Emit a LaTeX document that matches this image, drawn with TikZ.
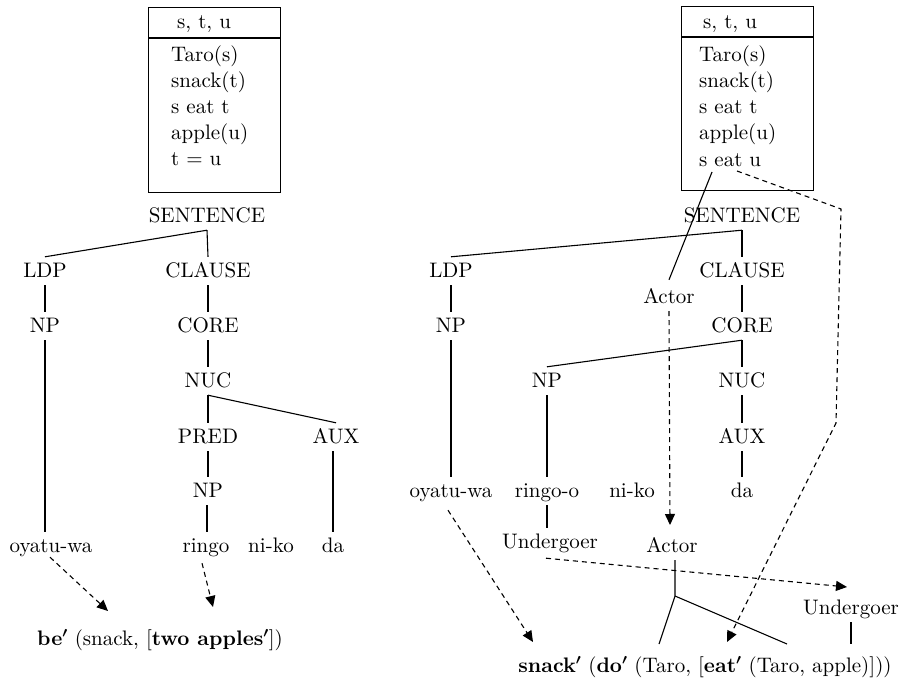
\documentclass[tikz,border=0pt]{standalone}
\usepackage{fontspec}
% Latin Modern at its 10pt design size, scaled up
\setmainfont{lmroman10-regular}[Extension=.otf, BoldFont=lmroman10-bold]
\usetikzlibrary{arrows.meta,calc}
% bold prime used in the semantic representations
\newcommand\bprime{{\boldmath$'$}}
\begin{document}
\begin{tikzpicture}[x=1pt,y=-1pt,
  every node/.style={font=\fontsize{21}{25}\selectfont},
  cat/.style={anchor=base, text height=16pt, text depth=4pt, inner xsep=2pt, inner ysep=4pt},
  drsline/.style={anchor=base west, inner sep=0pt},
  drsbox/.style={draw, line width=1.2pt, anchor=north west, inner sep=0pt},
  formula/.style={anchor=base, inner sep=0pt},
  branch/.style={line width=1.1pt},
  linkline/.style={line width=1.1pt, dash pattern=on 5pt off 4pt},
  link/.style={linkline, -{Triangle[length=11pt,width=10pt]}}
]
\useasboundingbox (0,0) rectangle (908,680);

% ---------------- left: DRS box ----------------
\node[drsbox, minimum width=132pt, minimum height=185pt] (boxL) at (148,7) {};
\draw[line width=1.2pt] ([yshift=-31pt]boxL.north west) -- ([yshift=-31pt]boxL.north east);
\node[drsline] (hdL) at (177,28) {s, t, u};
\node[drsline] (l1L) at (171,61) {Taro(s)};
\node[drsline] (l2L) at (171,87) {snack(t)};
\node[drsline] (l3L) at (171,113) {s eat t};
\node[drsline] (l4L) at (171,139) {apple(u)};
\node[drsline] (l5L) at (171,165) {t = u};

% ---------------- left: tree ----------------
\node[cat] (sentL)   at (207,222) {SENTENCE};
\node[cat] (ldpL)    at (45,277)  {LDP};
\node[cat] (clauseL) at (208,277) {CLAUSE};
\node[cat] (npL)     at (45,332)  {NP};
\node[cat] (coreL)   at (208,332) {CORE};
\node[cat] (nucL)    at (208,387) {NUC};
\node[cat] (predL)   at (208,443) {PRED};
\node[cat] (auxL)    at (336,443) {AUX};
\node[cat] (np2L)    at (208,497) {NP};
\node[cat] (oyL)     at (51,552)  {oyatu-wa};
\node[cat] (ringoL)  at (206,552) {ringo};
\node[cat] (nikoL)   at (271,552) {ni-ko};
\node[cat] (daL)     at (333,552) {da};
\node[formula] (semL) at (160,645) {\textbf{be}\bprime{} (snack, [\textbf{two apples}\bprime])};

\draw[branch] (sentL.south) -- (clauseL.north);
\draw[branch] (sentL.south) -- (ldpL.north);
\draw[branch] (ldpL.south) -- (npL.north);
\draw[branch] (clauseL.south) -- (coreL.north);
\draw[branch] (coreL.south) -- (nucL.north);
\draw[branch] (nucL.south) -- (predL.north);
\draw[branch] (nucL.south) -- (auxL.north);
\draw[branch] (predL.south) -- (np2L.north);
\draw[branch] ([xshift=-1pt]np2L.south) -- ([xshift=-1pt]np2L.south |- ringoL.north);
\draw[branch] (npL.south) -- (oyL.north -| npL);
\draw[branch] (daL |- auxL.south) -- (daL.north);

\coordinate (tipOyL) at (108,611);
\coordinate (tipRiL) at (213,607);
\draw[link] ([shift={(-1,-3)}]oyL.south) -- (tipOyL);
\draw[link] ([shift={(-4,3)}]ringoL.south) -- (tipRiL);

% ---------------- right: DRS box ----------------
\node[drsbox, minimum width=132pt, minimum height=184pt] (boxR) at (681,6) {};
\draw[line width=1.2pt] ([yshift=-31pt]boxR.north west) -- ([yshift=-31pt]boxR.north east);
\node[drsline] (hdR) at (703,28) {s, t, u};
\node[drsline] (l1R) at (699,61) {Taro(s)};
\node[drsline] (l2R) at (699,87) {snack(t)};
\node[drsline] (l3R) at (699,113) {s eat t};
\node[drsline] (l4R) at (699,139) {apple(u)};
\node[drsline] (seatuR) at (699,166) {s eat u};

% ---------------- right: tree ----------------
\node[cat] (sentR)   at (742,222) {SENTENCE};
\node[cat] (ldpR)    at (451,277) {LDP};
\node[cat] (clauseR) at (742,277) {CLAUSE};
\node[cat] (actU)    at (669,303) {Actor};
\node[cat] (npR)     at (451,332) {NP};
\node[cat] (coreR)   at (742,332) {CORE};
\node[cat] (np2R)    at (547,387) {NP};
\node[cat] (nucR)    at (742,387) {NUC};
\node[cat] (auxR)    at (742,443) {AUX};
\node[cat] (oyR)     at (451,497) {oyatu-wa};
\node[cat] (ringoR)  at (547,497) {ringo-o};
\node[cat] (nikoR)   at (632,497) {ni-ko};
\node[cat] (daR)     at (742,497) {da};
\node[cat] (undL)    at (550,548) {Undergoer};
\node[cat] (actL)    at (672,552) {Actor};
\node[cat] (undR)    at (851,614) {Undergoer};
\node[formula] (semR) at (705,672) {\textbf{snack}\bprime{} (\textbf{do}\bprime{} (Taro, [\textbf{eat}\bprime{} (Taro, apple)]))};

\draw[branch] (sentR.south) -- (clauseR.north);
\draw[branch] (sentR.south) -- (ldpR.north);
\draw[branch] (ldpR.south) -- (npR.north);
\draw[branch] (npR.south) -- (oyR.north);
\draw[branch] (clauseR.south) -- (coreR.north);
\draw[branch] (coreR.south) -- (nucR.north);
\draw[branch] (coreR.south) -- (np2R.north);
\draw[branch] (nucR.south) -- (auxR.north);
\draw[branch] (auxR.south) -- (daR.north);
\draw[branch] (np2R.south) -- (ringoR.north);
\draw[branch] (ringoR.south) -- (undL.north -| ringoR);

% actor linking from the DRS condition
\coordinate (seatuS) at ($(seatuR.base west)+(13,6)$);
\draw[branch] (seatuS) -- ([yshift=3pt]actU.north);

% logical structure links
\coordinate (split)  at (675,596);
\coordinate (argT1)  at (659,644);
\coordinate (argT2)  at (787,644);
\coordinate (argApp) at (851,644);
\draw[branch] (split |- actL.south) -- (split) -- (argT1);
\draw[branch] (split) -- (argT2);
\draw[branch] (undR.south) -- (argApp);

% dashed links
\coordinate (seatuE) at ($(seatuR.base west)+(38,5)$);
\coordinate (bendA)  at (841,209);
\coordinate (bendB)  at (836,423);
\coordinate (tipEat) at (727,642);
\draw[link] (seatuE) -- (bendA) -- (bendB) -- (tipEat);

\coordinate (tipAct) at (670,525);
\draw[link] (actU.south) -- (tipAct);

\coordinate (tipUnd) at (847,587);
\draw[link] ([shift={(-4,2)}]undL.south) -- (tipUnd);

\coordinate (tipOyR) at (533,642);
\draw[link] ([shift={(-3,5)}]oyR.south) -- (tipOyR);
\end{tikzpicture}
\end{document}
